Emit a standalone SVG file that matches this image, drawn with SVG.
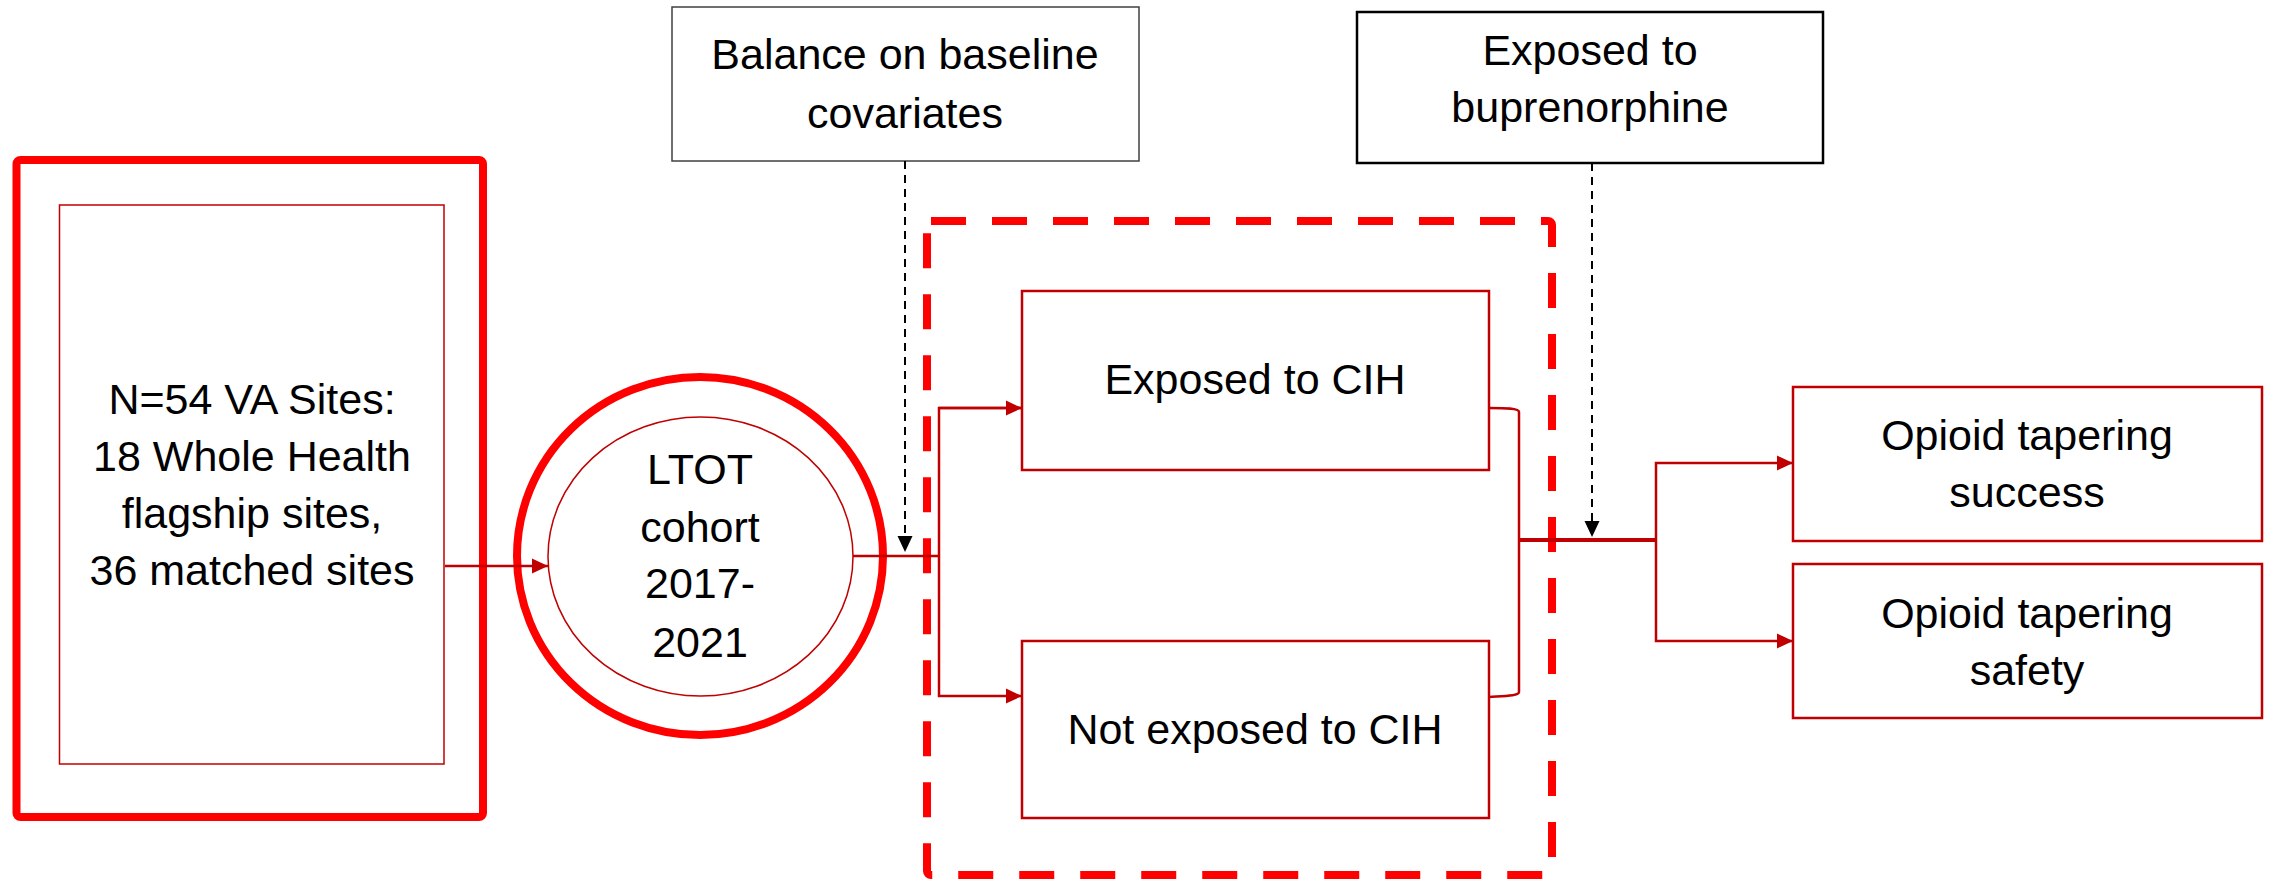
<svg xmlns="http://www.w3.org/2000/svg" width="2269" height="879" viewBox="0 0 2269 879">
<style>
  text { font-family: "Liberation Sans", Arial, sans-serif; font-size: 43px; fill: #000; text-anchor: middle; }
  .thick { fill: none; stroke: #FF0000; stroke-width: 8; }
  .thin { fill: #fff; stroke: #C00000; stroke-width: 1.5; }
  .box { fill: #fff; stroke: #C00000; stroke-width: 2.5; }
  .conn { fill: none; stroke: #C00000; stroke-width: 2.5; }
  .dash { fill: none; stroke: #000; stroke-width: 2; stroke-dasharray: 8 6; }
</style>
<defs>
  <marker id="ah" markerUnits="userSpaceOnUse" markerWidth="16" markerHeight="16" refX="16" refY="8" orient="auto" viewBox="0 0 16 16">
    <path d="M0,0.5 L16,8 L0,15.5 z" fill="#C00000"/>
  </marker>
  <marker id="ahb" markerUnits="userSpaceOnUse" markerWidth="16" markerHeight="16" refX="16" refY="8" orient="auto" viewBox="0 0 16 16">
    <path d="M0,0.5 L16,8 L0,15.5 z" fill="#000"/>
  </marker>
</defs>
<rect width="2269" height="879" fill="#fff"/>

<g id="sites">
  <rect class="thick" x="16.5" y="160" width="466.5" height="657" rx="4"/>
  <rect class="thin" x="59.5" y="205" width="384.5" height="559"/>
  <text x="252" y="414">N=54 VA Sites:</text>
  <text x="252" y="471">18 Whole Health</text>
  <text x="252" y="528">flagship sites,</text>
  <text x="252" y="585">36 matched sites</text>
</g>

<g id="cohort">
  <ellipse class="thick" cx="700" cy="556" rx="183" ry="179" stroke-width="7"/>
  <ellipse class="thin" cx="700.5" cy="556.5" rx="152.5" ry="139.5"/>
  <text x="700" y="484">LTOT</text>
  <text x="700" y="542">cohort</text>
  <text x="700" y="598">2017-</text>
  <text x="700" y="657">2021</text>
</g>

<g id="balance">
  <rect x="672" y="7" width="467" height="154" fill="#fff" stroke="#404040" stroke-width="1.5"/>
  <text x="905" y="69">Balance on baseline</text>
  <text x="905" y="128">covariates</text>
</g>

<g id="buprenorphine">
  <rect x="1357" y="12" width="466" height="151" fill="#fff" stroke="#000" stroke-width="2.5"/>
  <text x="1590" y="65">Exposed to</text>
  <text x="1590" y="122">buprenorphine</text>
</g>

<g id="exposure-group">
  <rect x="927" y="221" width="625" height="654" rx="4" fill="none" stroke="#FF0000" stroke-width="8" stroke-dasharray="35 26"/>
</g>

<g id="exposed-cih">
  <rect class="box" x="1022" y="291" width="467" height="179"/>
  <text x="1255" y="394">Exposed to CIH</text>
</g>

<g id="not-exposed-cih">
  <rect class="box" x="1022" y="641" width="467" height="177"/>
  <text x="1255" y="744">Not exposed to CIH</text>
</g>

<g id="success">
  <rect class="box" x="1793" y="387" width="469" height="154"/>
  <text x="2027" y="450">Opioid tapering</text>
  <text x="2027" y="507">success</text>
</g>

<g id="safety">
  <rect class="box" x="1793" y="564" width="469" height="154"/>
  <text x="2027" y="628">Opioid tapering</text>
  <text x="2027" y="685">safety</text>
</g>

<g id="connectors">
  <line class="conn" x1="445" y1="566" x2="548" y2="566" marker-end="url(#ah)"/>
  <path class="conn" d="M853,556 H939"/>
  <path class="conn" d="M1022,408 H939 V696 H1022" marker-end="url(#ah)"/>
  <path class="conn" d="M939,408 H1022" marker-end="url(#ah)"/>
  <path class="conn" d="M1489,408 C1505,408 1519,408 1519,412 V692 C1519,696 1505,696 1489,697"/>
  <line x1="1519" y1="540" x2="1656" y2="540" stroke="#C00000" stroke-width="4"/>
  <path class="conn" d="M1656,540 V463 H1793" marker-end="url(#ah)"/>
  <path class="conn" d="M1656,540 V641 H1793" marker-end="url(#ah)"/>
  <line class="dash" x1="905" y1="161" x2="905" y2="552" marker-end="url(#ahb)"/>
  <line class="dash" x1="1592" y1="163" x2="1592" y2="537" marker-end="url(#ahb)"/>
</g>
</svg>
